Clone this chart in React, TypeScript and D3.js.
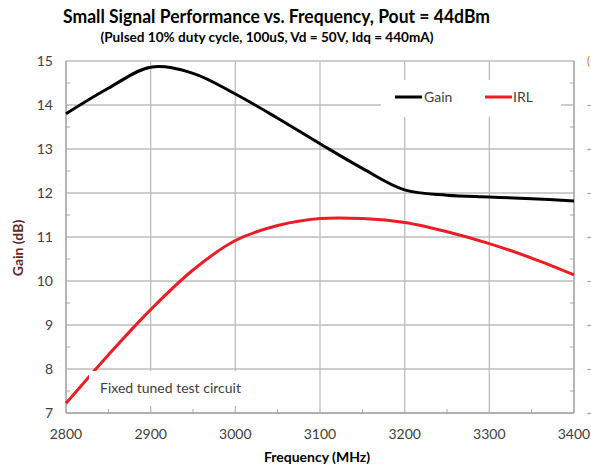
import React from "react";
import * as d3 from "d3";

const freqs = [2800, 2850, 2900, 2950, 3000, 3050, 3100, 3150, 3200, 3250, 3300, 3350, 3400];
const gain = [13.8, 14.38, 14.86, 14.72, 14.25, 13.7, 13.12, 12.56, 12.07, 11.95, 11.91, 11.87, 11.82];
const irl = [7.22, 8.32, 9.35, 10.25, 10.92, 11.26, 11.42, 11.42, 11.33, 11.12, 10.85, 10.52, 10.14];
const yTicks = [7, 8, 9, 10, 11, 12, 13, 14, 15];
const xTicks = [2800, 2900, 3000, 3100, 3200, 3300, 3400];
const rightLabels = ["(", "-", "-", "-", "-", "-", "-", "-", "-"];

const W = 591, H = 470;
const L = 66, R = 574, T = 61, B = 413;

export default function App() {
  const x = d3.scaleLinear().domain([2800, 3400]).range([L, R]);
  const y = d3.scaleLinear().domain([7, 15]).range([B, T]);
  const line = d3.line<[number, number]>().x(d => x(d[0])).y(d => y(d[1])).curve(d3.curveCatmullRom.alpha(0.5));
  const gainPath = line(freqs.map((f, i) => [f, gain[i]] as [number, number])) || "";
  const irlPath = line(freqs.map((f, i) => [f, irl[i]] as [number, number])) || "";
  const minorY = d3.range(7.5, 15, 1);
  const minorX = d3.range(2850, 3400, 100);
  const grid = "#bdbdbd";
  const axis = "#a6a6a6";
  const tickColor = "#404040";
  const font = "Lato, 'Open Sans', sans-serif";
  return (
    <div style={{ position: "absolute", left: 0, top: 0 }}>
      <svg width={W} height={H} style={{ display: "block", background: "#fff" }} fontFamily={font}>
        <text x={276.5} y={23} textAnchor="middle" fontSize={18} fontWeight="bold" fill="#000" textLength={427} lengthAdjust="spacingAndGlyphs">
          Small Signal Performance vs. Frequency, Pout = 44dBm
        </text>
        <text x={267} y={42} textAnchor="middle" fontSize={12.5} fontWeight="bold" fill="#000" textLength={333} lengthAdjust="spacingAndGlyphs">
          (Pulsed 10% duty cycle, 100uS, Vd = 50V, Idq = 440mA)
        </text>
        {yTicks.map(t => (
          <line key={"gy" + t} x1={L} x2={R} y1={y(t)} y2={y(t)} stroke={grid} strokeWidth={1.3} />
        ))}
        {xTicks.map(t => (
          <line key={"gx" + t} x1={x(t)} x2={x(t)} y1={T} y2={B} stroke={grid} strokeWidth={1.3} />
        ))}
        {minorY.map(t => (
          <g key={"my" + t}>
            <line x1={L} x2={L + 4} y1={y(t)} y2={y(t)} stroke={axis} strokeWidth={1} />
            <line x1={R - 4} x2={R} y1={y(t)} y2={y(t)} stroke={axis} strokeWidth={1} />
          </g>
        ))}
        {minorX.map(t => (
          <line key={"mx" + t} x1={x(t)} x2={x(t)} y1={B - 4} y2={B} stroke={axis} strokeWidth={1} />
        ))}
        <line x1={L} x2={L} y1={T} y2={B} stroke={axis} strokeWidth={1.3} />
        <line x1={R} x2={R} y1={T} y2={B} stroke={axis} strokeWidth={1.3} />
        <line x1={L} x2={R} y1={B} y2={B} stroke={axis} strokeWidth={1.3} />
        <path d={irlPath} fill="none" stroke="#ee1c25" strokeWidth={3} />
        <path d={gainPath} fill="none" stroke="#000" strokeWidth={3} />
        <rect x={381} y={80} width={180} height={37} fill="#fff" />
        <line x1={395} x2={422} y1={97} y2={97} stroke="#000" strokeWidth={3} />
        <text x={424} y={102} fontSize={14} fill={tickColor}>Gain</text>
        <line x1={485} x2={512} y1={97} y2={97} stroke="#ee1c25" strokeWidth={3} />
        <text x={513} y={102} fontSize={14} fill={tickColor}>IRL</text>
        <rect x={89} y={371} width={168} height={35} fill="#fff" />
        <text x={100} y={393} fontSize={14} fill={tickColor}>Fixed tuned test circuit</text>
        {yTicks.map(t => (
          <text key={"ly" + t} x={53} y={y(t) + 5} textAnchor="end" fontSize={14} fill={tickColor}>{t}</text>
        ))}
        {xTicks.map(t => (
          <text key={"lx" + t} x={x(t)} y={439} textAnchor="middle" fontSize={14} fill={tickColor}>{t}</text>
        ))}
        {yTicks.slice().reverse().map((t, i) => (
          <text key={"ry" + t} x={587} y={y(t) + 4} fontSize={11} fill="#e46c0a">{rightLabels[i]}</text>
        ))}
        <text x={317} y={462} textAnchor="middle" fontSize={14} fontWeight="bold" fill="#000">Frequency (MHz)</text>
        <text transform={`translate(23,248) rotate(-90)`} textAnchor="middle" fontSize={14} fontWeight="bold" fill="#632523">Gain (dB)</text>
      </svg>
    </div>
  );
}
